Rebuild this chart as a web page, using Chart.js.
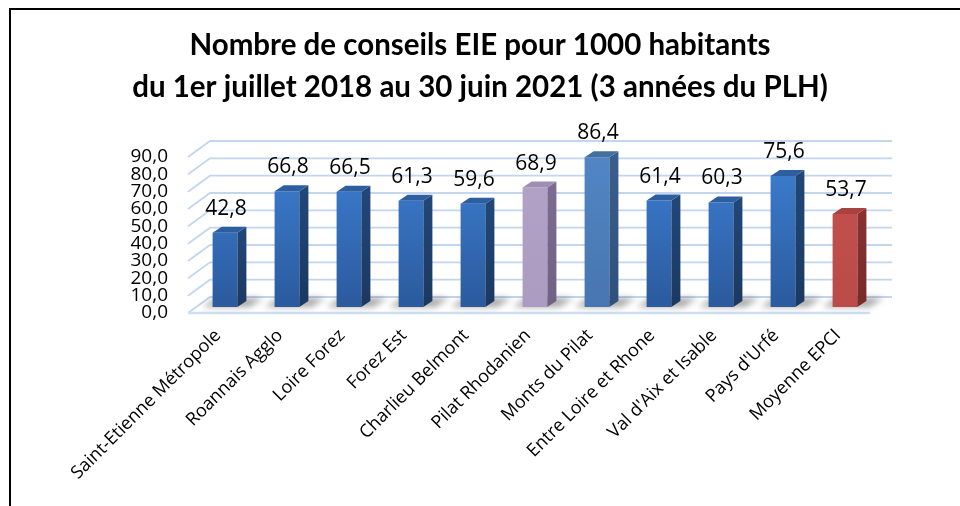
<!DOCTYPE html>
<html>
<head>
<meta charset="utf-8">
<script src="https://cdn.jsdelivr.net/npm/chart.js@4.4.1/dist/chart.umd.min.js"></script>
<style>
  html, body { margin: 0; padding: 0; background: #fff; }
  #wrap { width: 960px; height: 506px; }
</style>
</head>
<body>
<div id="wrap"><canvas id="eie" width="960" height="506"></canvas></div>
<script>
// données
const territoires = [
  'Saint-Etienne Métropole', 'Roannais Agglo', 'Loire Forez', 'Forez Est',
  'Charlieu Belmont', 'Pilat Rhodanien', 'Monts du Pilat', 'Entre Loire et Rhone',
  "Val d'Aix et Isable", "Pays d'Urfé", 'Moyenne EPCI'
];
const conseils = [42.8, 66.8, 66.5, 61.3, 59.6, 68.9, 86.4, 61.4, 60.3, 75.6, 53.7];
const graduations = [0, 10, 20, 30, 40, 50, 60, 70, 80, 90];
const titre = [
  'Nombre de conseils EIE pour 1000 habitants',
  'du 1er juillet 2018 au 30 juin 2021 (3 années du PLH)'
];

// teinte de chaque barre
const teinte = ['bleu', 'bleu', 'bleu', 'bleu', 'bleu', 'lavande', 'bleuClair', 'bleu', 'bleu', 'bleu', 'rouge'];
const palette = {
  bleu:      { haut: '#3d80d4', bas: '#2b5a9d', cote: '#214778', coteBas: '#1b3860', dessus: '#2d5e9f' },
  lavande:   { haut: '#b4a3c9', bas: '#ac9bc1', cote: '#7b6c90', coteBas: '#706283', dessus: '#9d8eb3' },
  bleuClair: { haut: '#5286c4', bas: '#4776b1', cote: '#395e8e', coteBas: '#30507b', dessus: '#43709f' },
  rouge:     { haut: '#c3524f', bas: '#bb4b48', cote: '#873231', coteBas: '#782b2a', dessus: '#a9413f' }
};

// décalages de perspective (px) par rapport au plan des barres
const AVANT = { dx: -6, dy: 6 };
const FOND = { dx: 16, dy: -10 };
const EPAISSEUR = { dx: 9, dy: -6 };

const virgule = v => v.toFixed(1).replace('.', ',');

const effet3d = {
  id: 'effet3d',
  beforeDraw(chart) {
    const ctx = chart.ctx;
    ctx.save();
    ctx.strokeStyle = '#000';
    ctx.lineWidth = 2;
    ctx.beginPath();
    ctx.moveTo(10, 506);
    ctx.lineTo(10, 9);
    ctx.lineTo(960, 9);
    ctx.stroke();
    ctx.restore();
  },
  beforeDatasetsDraw(chart) {
    const ctx = chart.ctx;
    const a = chart.chartArea;
    const y = chart.scales.y;
    ctx.save();
    // parois : mur du fond et paroi gauche
    ctx.strokeStyle = '#c2d6ef';
    ctx.lineWidth = 1.8;
    graduations.forEach(v => {
      const py = y.getPixelForValue(v);
      ctx.beginPath();
      ctx.moveTo(a.left + AVANT.dx, py + AVANT.dy);
      ctx.lineTo(a.left + FOND.dx, py + FOND.dy);
      ctx.lineTo(a.right + FOND.dx, py + FOND.dy);
      ctx.stroke();
    });
    // bord avant du sol
    const y0 = y.getPixelForValue(0);
    ctx.strokeStyle = '#d0e0f3';
    ctx.lineWidth = 2.5;
    ctx.beginPath();
    ctx.moveTo(a.left + AVANT.dx, y0 + AVANT.dy);
    ctx.lineTo(a.right + AVANT.dx, y0 + AVANT.dy);
    ctx.stroke();
    // ombres au sol
    ctx.filter = 'blur(3px)';
    ctx.fillStyle = 'rgba(60,60,60,0.45)';
    chart.getDatasetMeta(0).data.forEach(bar => {
      const l = bar.x - bar.width / 2, r = bar.x + bar.width / 2, b = bar.base;
      ctx.beginPath();
      ctx.moveTo(l - 10, b);
      ctx.lineTo(r + 12, b);
      ctx.lineTo(r + 26, b - 9);
      ctx.lineTo(l + 4, b - 9);
      ctx.closePath();
      ctx.fill();
    });
    ctx.restore();
  },
  afterDatasetsDraw(chart) {
    const ctx = chart.ctx;
    ctx.save();
    chart.getDatasetMeta(0).data.forEach((bar, i) => {
      const p = palette[teinte[i]];
      const l = bar.x - bar.width / 2, r = bar.x + bar.width / 2;
      const t = bar.y, b = bar.base;
      // face latérale
      const g = ctx.createLinearGradient(0, t, 0, b);
      g.addColorStop(0, p.cote);
      g.addColorStop(1, p.coteBas);
      ctx.fillStyle = g;
      ctx.beginPath();
      ctx.moveTo(r, t);
      ctx.lineTo(r + EPAISSEUR.dx, t + EPAISSEUR.dy);
      ctx.lineTo(r + EPAISSEUR.dx, b + EPAISSEUR.dy);
      ctx.lineTo(r, b);
      ctx.closePath();
      ctx.fill();
      // dessus
      ctx.fillStyle = p.dessus;
      ctx.beginPath();
      ctx.moveTo(l, t);
      ctx.lineTo(l + EPAISSEUR.dx, t + EPAISSEUR.dy);
      ctx.lineTo(r + EPAISSEUR.dx, t + EPAISSEUR.dy);
      ctx.lineTo(r, t);
      ctx.closePath();
      ctx.fill();
      // étiquette de valeur
      ctx.fillStyle = '#000';
      ctx.font = '21px "Open Sans"';
      ctx.textAlign = 'center';
      ctx.textBaseline = 'middle';
      ctx.fillText(virgule(conseils[i]), bar.x + 1, t - 24);
    });
    ctx.restore();
  }
};

new Chart(document.getElementById('eie'), {
  type: 'bar',
  data: {
    labels: territoires,
    datasets: [{
      data: conseils,
      backgroundColor: c => {
        const p = palette[teinte[c.dataIndex]];
        const a = c.chart.chartArea;
        if (!a) return p.haut;
        const g = c.chart.ctx.createLinearGradient(0, a.top, 0, a.bottom);
        g.addColorStop(0, p.haut);
        g.addColorStop(1, p.bas);
        return g;
      },
      borderWidth: 0,
      barPercentage: 0.8,
      categoryPercentage: 0.5
    }]
  },
  options: {
    responsive: false,
    animation: false,
    layout: { padding: 0 },
    plugins: {
      legend: { display: false },
      tooltip: { enabled: false },
      title: {
        display: true,
        text: titre,
        color: '#000',
        font: { family: 'Lato', size: 29.5, weight: 'bold', lineHeight: 42 / 29.5 },
        padding: { top: 24, bottom: 43 }
      }
    },
    scales: {
      x: {
        grid: { display: false, drawTicks: false },
        border: { display: false },
        ticks: {
          color: '#000',
          font: { family: 'Open Sans', size: 18 },
          minRotation: 45,
          maxRotation: 45,
          autoSkip: false,
          padding: 18,
          labelOffset: -7
        },
        afterFit: s => { s.height = 199; }
      },
      y: {
        min: 0,
        max: 90,
        grid: { display: false, drawTicks: false },
        border: { display: false },
        ticks: {
          stepSize: 10,
          autoSkip: false,
          color: '#000',
          font: { family: 'Open Sans', size: 19 },
          padding: 26,
          labelOffset: 6,
          callback: v => virgule(v)
        },
        afterFit: s => { s.width = 194; }
      },
      // marge droite réservée (axe vide)
      marge: {
        position: 'right',
        display: true,
        grid: { display: false, drawTicks: false },
        border: { display: false },
        ticks: { display: false },
        afterFit: s => { s.width = 84; }
      }
    }
  },
  plugins: [effet3d]
});
</script>
</body>
</html>
